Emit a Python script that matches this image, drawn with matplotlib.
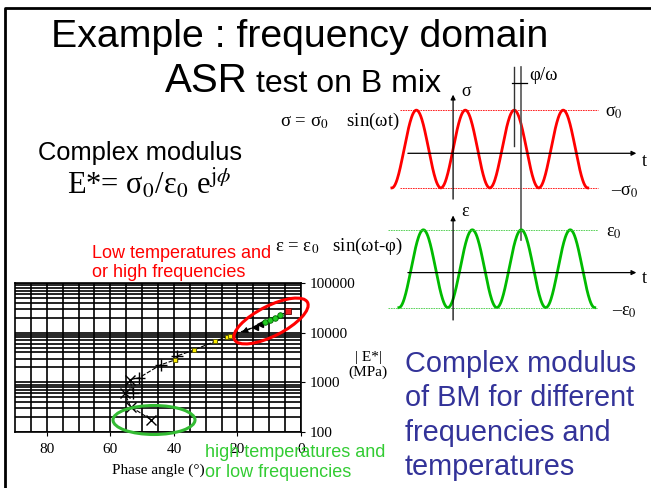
import numpy as np
import matplotlib.pyplot as plt
from matplotlib.patches import Ellipse

plt.rcParams['mathtext.fontset'] = 'stix'

# Black diagram: phase angle (deg) and |E*| (MPa)
x_phase = [47.3, 53.6, 55.5, 53.8]
x_modulus = [178, 325, 600, 1135]
plus_phase = [52.8, 51.0, 44.2, 39.0]
plus_modulus = [600, 1230, 2250, 3400]
yellow_phase = [39.8, 33.8, 27.2, 23.3, 22.3]
yellow_modulus = [2800, 4450, 6650, 8300, 8700]
tri_phase = [14.4, 12.9]
tri_modulus = [13200, 15100]
green_phase = [11.3, 9.7, 8.2, 6.6]
green_modulus = [16200, 17600, 19500, 22400]
red_phase = [4.0]
red_modulus = [27000]

x_ticks = [80, 60, 40, 20, 0]
y_ticks = [100, 1000, 10000, 100000]
y_labels = ['100', '1000', '10000', '100000']

# sine sketches (time in periods)
t_start = -1.25
t_end = 2.75
lag = 0.143          # phi / (2 pi)

W, H = 651, 488
fig = plt.figure(figsize=(W / 100, H / 100), dpi=100)


def px_axes(x0, y0, x1, y1, **kw):
    return fig.add_axes([x0 / W, 1 - y1 / H, (x1 - x0) / W, (y1 - y0) / H], **kw)


serif = 'Liberation Serif'
sans = 'Liberation Sans'

# ---- Black diagram ----
ax = px_axes(15, 283, 301, 432)
ax.set_yscale('log')
ax.set_xlim(90, 0)
ax.set_ylim(100, 100000)
ax.set_xticks(x_ticks)
ax.set_xticks(np.arange(5, 90, 5), minor=True)
ax.set_yticks(y_ticks)
ax.set_yticklabels(y_labels)
ax.grid(True, which='both', color='black', linewidth=1.2)
ax.yaxis.tick_right()
ax.tick_params(axis='both', which='minor', length=0)
ax.tick_params(axis='both', which='major', length=3, direction='out', pad=3)
ax.tick_params(axis='x', which='major', pad=5)
for lab in ax.get_xticklabels() + ax.get_yticklabels():
    lab.set_fontfamily(serif)
    lab.set_fontsize(11)
ax.set_xlabel('Phase angle (°)', fontfamily=serif, fontsize=11, labelpad=5)
for s in ax.spines.values():
    s.set_linewidth(1.2)

all_phase = x_phase + plus_phase + yellow_phase + tri_phase + green_phase + red_phase
all_mod = x_modulus + plus_modulus + yellow_modulus + tri_modulus + green_modulus + red_modulus
order = np.argsort(all_mod)
ax.plot(np.array(all_phase)[order], np.array(all_mod)[order], color='black',
        linewidth=0.8, dashes=(4, 1.5))
ax.plot(x_phase, x_modulus, 'x', color='black', markersize=7, markeredgewidth=1.0)
ax.plot(plus_phase, plus_modulus, '+', color='black', markersize=8, markeredgewidth=1.0)
ax.plot(yellow_phase, yellow_modulus, 's', color='#ffee00', markeredgecolor='#555500',
        markersize=3.5, markeredgewidth=0.6)
ax.plot(tri_phase, tri_modulus, '<', color='black', markersize=5)
ax.annotate('', xy=(19.5, 9600), xytext=(14.4, 13200),
            arrowprops=dict(arrowstyle='-|>', color='black', lw=0.8, mutation_scale=9))
ax.plot(green_phase, green_modulus, 'o', color='#22cc22', markeredgecolor='#006600',
        markersize=4, markeredgewidth=0.6)
ax.plot(red_phase, red_modulus, 's', color='#ee2222', markeredgecolor='#660000',
        markersize=4, markeredgewidth=0.6)

# ---- sine sketches ----
t = np.linspace(t_start, t_end, 400)
t_green = t + lag
x_min, x_max = -1.35, 3.9

axr = px_axes(387, 60, 644, 205)
axr.set_xlim(x_min, x_max)
axr.set_ylim(-1.44, 2.29)
axg = px_axes(387, 195, 644, 325)
axg.set_xlim(x_min, x_max)
axg.set_ylim(-1.447, 1.895)
for a in (axr, axg):
    a.axis('off')
    a.patch.set_alpha(0)

axr.plot(t, np.sin(2 * np.pi * t), color='red', linewidth=2)
axg.plot(t_green, np.sin(2 * np.pi * (t_green - lag)), color='#00bb00', linewidth=2)

axr.hlines([1, -1], -1.08, 2.96, color='red', linewidth=0.6, linestyles=(0, (2, 1)))
axg.hlines([1, -1], -1.33, 2.96, color='#44cc44', linewidth=0.6, linestyles=(0, (2, 1)))

arrow = dict(arrowstyle='-|>', color='black', lw=0.9, mutation_scale=7)
axr.annotate('', xy=(3.80, -0.11), xytext=(-0.98, -0.11), arrowprops=arrow)
axr.annotate('', xy=(0, 1.47), xytext=(0, -1.36), arrowprops=arrow)
axg.annotate('', xy=(3.80, -0.10), xytext=(-0.98, -0.10), arrowprops=arrow)
axg.annotate('', xy=(0, 1.44), xytext=(0, -1.39), arrowprops=arrow)

# phi / omega marker
axr.plot([1.25, 1.25], [2.11, 0.08], color='#333333', linewidth=1.0)
axr.plot([1.25 + lag, 1.25 + lag], [2.11, -2.34], color='#555555', linewidth=1.2,
         clip_on=False)
axr.plot([1.21, 1.50], [1.70, 1.70], color='black', linewidth=0.9)
axr.text(1.55, 1.90, 'φ/ω', fontfamily=serif, fontsize=13.5, va='center')

axr.text(0.16, 1.47, 'σ', fontfamily=serif, fontsize=13, va='center')
axr.text(3.10, 0.93, 'σ$_0$', fontfamily=serif, fontsize=13, va='center')
axr.text(3.22, -1.10, '\u2013σ$_0$', fontfamily=serif, fontsize=13, va='center')
axr.text(3.86, -0.33, 't', fontfamily=serif, fontsize=13, va='center')
axg.text(0.16, 1.46, 'ε', fontfamily=serif, fontsize=13, va='center')
axg.text(3.12, 0.94, 'ε$_0$', fontfamily=serif, fontsize=13, va='center')
axg.text(3.25, -1.11, '\u2013ε$_0$', fontfamily=serif, fontsize=13, va='center')
axg.text(3.86, -0.24, 't', fontfamily=serif, fontsize=13, va='center')

# ---- slide text and annotations ----
ov = fig.add_axes([0, 0, 1, 1], zorder=10)
ov.set_xlim(0, W)
ov.set_ylim(H, 0)
ov.axis('off')
ov.patch.set_alpha(0)

ov.plot([5, 5, W], [H, 8, 8], color='black', linewidth=2)

ov.text(300, 37, 'Example : frequency domain', fontfamily=sans, fontsize=28.3,
        ha='center', va='center')
ov.text(165, 92, 'ASR', fontfamily=sans, fontsize=29, va='baseline')
ov.text(256, 92, 'test on B mix', fontfamily=sans, fontsize=23, va='baseline')
ov.text(38, 153, 'Complex modulus', fontfamily=sans, fontsize=18.4, va='center')
ov.text(67, 183, 'E*= σ$_0$/ε$_0$ e$^{\\mathrm{j}\\phi}$', fontfamily=serif,
        fontsize=22, va='center')
ov.text(280, 121, 'σ = σ$_0$    sin(ωt)', fontfamily=serif, fontsize=13.5,
        va='center')
ov.text(275, 246, 'ε = ε$_0$   sin(ωt-φ)', fontfamily=serif, fontsize=13.5,
        va='center')

ov.text(92, 245, 'Low temperatures and\nor high frequencies', fontfamily=sans,
        fontsize=13, color='red', va='top', linespacing=1.15)
ov.text(205, 444, 'high temperatures and\nor low frequencies', fontfamily=sans,
        fontsize=13, color='#33cc33', va='top', linespacing=1.2)
ov.text(368, 365, '| E*|\n(MPa)', fontfamily=serif, fontsize=11, ha='center',
        va='center', linespacing=1.2)
ov.text(405, 350, 'Complex modulus\nof BM for different\nfrequencies and\ntemperatures',
        fontfamily=sans, fontsize=20.8, color='#333399', va='top', linespacing=1.29)

ov.add_patch(Ellipse((271, 321), 82, 30, angle=-27, fill=False, edgecolor='red',
                     linewidth=2.2))
ov.add_patch(Ellipse((154, 420), 82, 29, angle=0, fill=False, edgecolor='#33bb33',
                     linewidth=2.2))

fig.savefig('out.png', dpi=100, facecolor='white')
